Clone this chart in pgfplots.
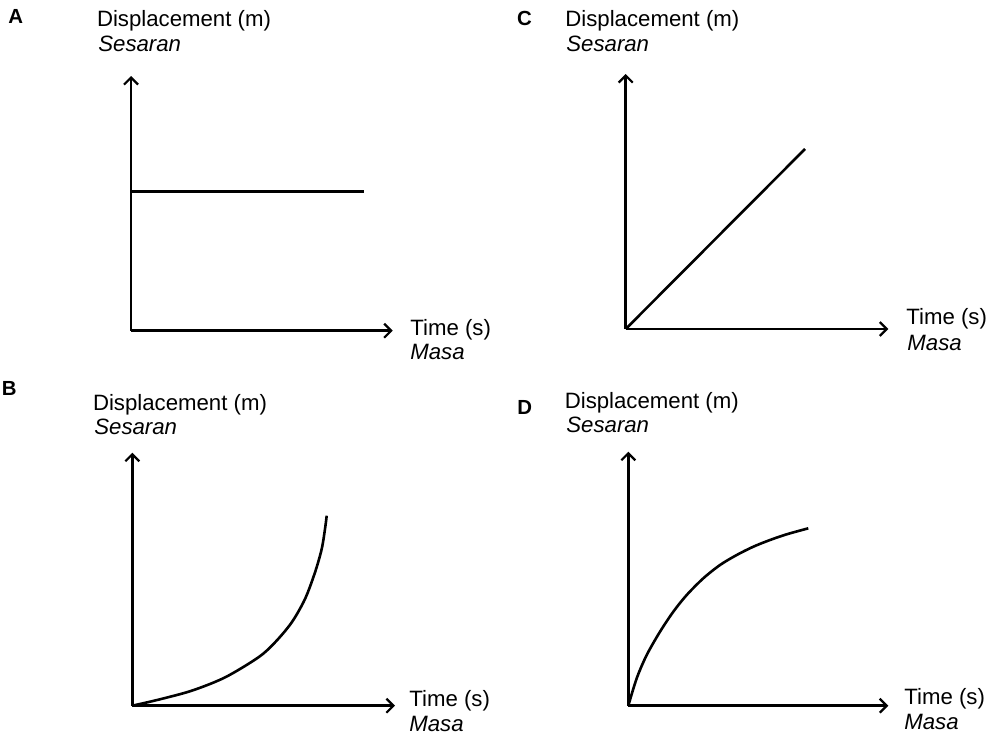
\documentclass[border=0pt]{standalone}
\usepackage{pgfplots}
\pgfplotsset{compat=1.18}
\usepackage{fontspec}
\setmainfont{Liberation Sans}
\usetikzlibrary{arrows.meta}

\pgfplotsset{
    sketch/.style={
        x=0.5pt, y=0.5pt,
        xmin=0, ymin=0,
        anchor=south west,
        axis lines=left,
        axis line style={line width=1.4pt, color=black,
            -{Straight Barb[length=3.5pt,width=7pt,line width=1.1pt]}},
        ticks=none,
        clip=false,
    },
    curve/.style={line width=1.3pt, color=black, mark=none},
}

\begin{document}
\begin{tikzpicture}[
    lab/.style={anchor=base west, inner sep=0pt, font=\fontsize{11.1}{13}\selectfont},
    tag/.style={anchor=base west, inner sep=0pt, font=\fontsize{10.2}{12}\selectfont\bfseries},
]
\path (0pt,0pt) rectangle (497.5pt,368pt);

% A: constant displacement
\begin{axis}[sketch, at={(65.5pt,202.65pt)}, xmax=261.7, ymax=254.7]
\addplot[curve] coordinates {(0,139) (233,139)};
\end{axis}

% C: uniform increase
\begin{axis}[sketch, at={(312.85pt,203.5pt)}, xmax=262.6, ymax=255]
\addplot[curve] coordinates {(0,0) (179.3,180)};
\end{axis}

% B: increasing slope
\begin{axis}[sketch, at={(66.15pt,15.15pt)}, xmax=262.7, ymax=253]
\addplot[curve, smooth] coordinates {
    (0,0) (26,6) (59.4,15) (92.7,28.3) (126,48.3) (142.7,63.3)
    (159.4,83.3) (172.7,106.7) (182.7,133.3) (189.4,156.7)
    (192.7,176.7) (194.4,190)
};
\end{axis}

% D: decreasing slope
\begin{axis}[sketch, at={(314.15pt,15.15pt)}, xmax=260, ymax=254]
\addplot[curve, smooth] coordinates {
    (0,0) (8.4,27.4) (18.4,50.7) (31.7,74) (45,94) (58.4,110.7)
    (75,127.4) (91.7,140.7) (108.4,150.7) (125,159) (141.7,165.7)
    (158.4,171.4) (180,177.4)
};
\end{axis}

% panel letters
\node[tag] at (4pt,356pt) {A};
\node[tag] at (258.3pt,355.5pt) {C};
\node[tag] at (0.8pt,170.5pt) {B};
\node[tag] at (258.5pt,161pt) {D};

% y labels
\node[lab] at (48.3pt,355pt) {Displacement (m)};
\node[lab] at (49pt,342.5pt) {\textit{Sesaran}};
\node[lab] at (282.5pt,355pt) {Displacement (m)};
\node[lab] at (283pt,342.5pt) {\textit{Sesaran}};
\node[lab] at (46.3pt,163pt) {Displacement (m)};
\node[lab] at (47pt,151pt) {\textit{Sesaran}};
\node[lab] at (282.2pt,163.9pt) {Displacement (m)};
\node[lab] at (283pt,151.7pt) {\textit{Sesaran}};

% x labels
\node[lab] at (205pt,200.5pt) {Time (s)};
\node[lab] at (205pt,188.5pt) {\textit{Masa}};
\node[lab] at (453pt,206pt) {Time (s)};
\node[lab] at (453.5pt,193pt) {\textit{Masa}};
\node[lab] at (204.5pt,15pt) {Time (s)};
\node[lab] at (204.5pt,2.5pt) {\textit{Masa}};
\node[lab] at (452pt,16pt) {Time (s)};
\node[lab] at (452pt,3.5pt) {\textit{Masa}};
\end{tikzpicture}
\end{document}
